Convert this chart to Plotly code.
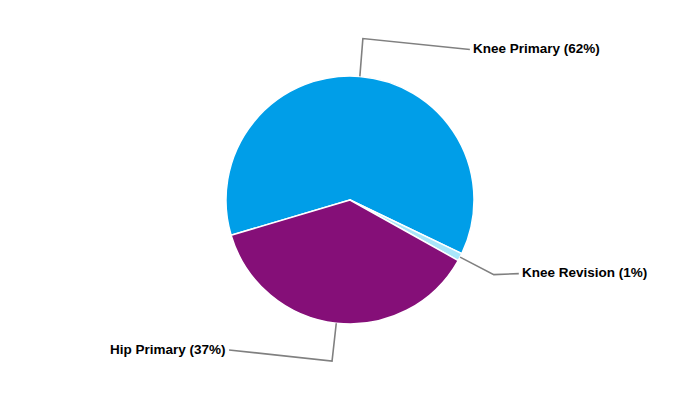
import math
import plotly.graph_objects as go

# ---- data ----
labels = ["Knee Primary", "Knee Revision", "Hip Primary"]
values = [61.7, 1.0, 37.3]
colors = ["#009ee8", "#a8e6fa", "#850f78"]

# ---- layout constants (pixels) ----
W, H = 700, 400
CX, CY, R = 350, 200, 124
ROTATION = -106.5
ELBOW_R = R + 38
# horizontal run and vertical change of the final leader segment per slice
LEAD_DX = [107, 25, -103]
LEAD_DY = [11, -1, -11]

def px(x):
    return x / W

def py(y):
    return 1 - y / H

fig = go.Figure()
fig.add_trace(go.Pie(
    labels=labels,
    values=values,
    marker=dict(colors=colors, line=dict(color="white", width=1.5)),
    sort=False,
    direction="clockwise",
    rotation=ROTATION,
    textinfo="none",
    hoverinfo="label+percent",
    domain=dict(x=[px(CX - R), px(CX + R)], y=[py(CY + R), py(CY - R)]),
    showlegend=False,
))

total = sum(values)
start = ROTATION
shapes = []
annotations = []
for i, (lab, v) in enumerate(zip(labels, values)):
    span = v / total * 360
    mid = math.radians(start + span / 2)
    start += span
    ex, ey = CX + R * math.sin(mid), CY - R * math.cos(mid)
    bx, by = CX + ELBOW_R * math.sin(mid), CY - ELBOW_R * math.cos(mid)
    lx, ly = bx + LEAD_DX[i], by + LEAD_DY[i]
    path = f"M {px(ex)},{py(ey)} L {px(bx)},{py(by)} L {px(lx)},{py(ly)}"
    shapes.append(dict(type="path", xref="paper", yref="paper", path=path,
                       line=dict(color="#808080", width=1.6)))
    pct = round(v / total * 100)
    right = LEAD_DX[i] > 0
    annotations.append(dict(
        x=px(lx + (1 if right else -1)), y=py(ly - 1), xref="paper", yref="paper",
        text=f"{lab} ({pct}%)", showarrow=False,
        xanchor="left" if right else "right", yanchor="middle",
        font=dict(family="Liberation Sans, Arial, sans-serif", size=13.5,
                  color="black", weight="bold"),
    ))

fig.update_layout(
    width=W, height=H,
    margin=dict(l=0, r=0, t=0, b=0),
    paper_bgcolor="white", plot_bgcolor="white",
    shapes=shapes, annotations=annotations,
)

fig.write_html("out.html", config={"displayModeBar": False},
               post_script="document.body.style.margin='0';")
